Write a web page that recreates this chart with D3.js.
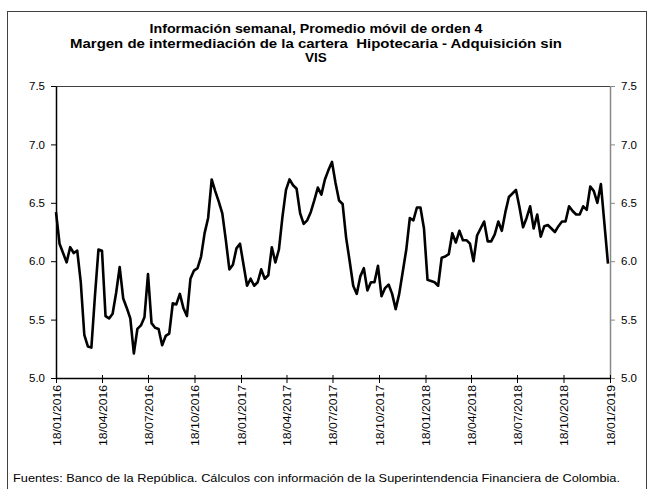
<!DOCTYPE html>
<html>
<head>
<meta charset="utf-8">
<script src="https://cdn.jsdelivr.net/npm/d3@7"></script>
<style>
  html, body { margin: 0; padding: 0; background: #fff; }
  svg { display: block; }
  text { font-family: Arial, "Liberation Sans", sans-serif; fill: #000; white-space: pre; }
</style>
</head>
<body>
<svg id="chart" width="653" height="489"></svg>
<script>
// ---- data ----
const titleLines = [
  "Información semanal, Promedio móvil de orden 4",
  "Margen de intermediación de la cartera  Hipotecaria - Adquisición sin",
  "VIS"
];
const sourceNote = "Fuentes: Banco de la República. Cálculos con información de la Superintendencia Financiera de Colombia.";
const startDate = "2016-01-18";
const endDate = "2019-01-18";
const tickDates = ["18/01/2016","18/04/2016","18/07/2016","18/10/2016","18/01/2017","18/04/2017","18/07/2017","18/10/2017","18/01/2018","18/04/2018","18/07/2018","18/10/2018","18/01/2019"];
const yTicks = [5.0, 5.5, 6.0, 6.5, 7.0, 7.5];
const margen = [
  6.42, 6.15, 6.07, 5.99, 6.12, 6.07, 6.09, 5.82, 5.37, 5.27,
  5.26, 5.70, 6.10, 6.09, 5.53, 5.51, 5.55, 5.73, 5.95, 5.68,
  5.60, 5.51, 5.21, 5.42, 5.45, 5.52, 5.89, 5.47, 5.43, 5.42,
  5.28, 5.36, 5.38, 5.64, 5.63, 5.72, 5.60, 5.53, 5.85, 5.92,
  5.94, 6.04, 6.24, 6.37, 6.70, 6.60, 6.51, 6.41, 6.18, 5.93,
  5.97, 6.11, 6.15, 5.97, 5.79, 5.85, 5.79, 5.82, 5.93, 5.85,
  5.88, 6.12, 5.99, 6.10, 6.38, 6.61, 6.70, 6.65, 6.62, 6.41,
  6.32, 6.35, 6.42, 6.52, 6.63, 6.57, 6.70, 6.78, 6.85, 6.67,
  6.52, 6.49, 6.20, 6.00, 5.79, 5.72, 5.87, 5.94, 5.75, 5.82,
  5.82, 5.96, 5.70, 5.77, 5.80, 5.72, 5.59, 5.72, 5.91, 6.10,
  6.37, 6.35, 6.46, 6.46, 6.28, 5.84, 5.83, 5.82, 5.79, 6.03,
  6.04, 6.06, 6.24, 6.16, 6.26, 6.18, 6.18, 6.15, 6.00, 6.22,
  6.28, 6.34, 6.17, 6.17, 6.23, 6.34, 6.26, 6.42, 6.55, 6.58,
  6.61, 6.46, 6.29, 6.37, 6.47, 6.28, 6.40, 6.21, 6.30, 6.31,
  6.28, 6.25, 6.30, 6.34, 6.34, 6.47, 6.43, 6.40, 6.40, 6.47,
  6.44, 6.64, 6.60, 6.50, 6.66, 6.32, 5.98
];

// ---- layout ----
const svg = d3.select("#chart");
const plot = { left: 56, right: 610, top: 86, bottom: 378 };
const parseISO = d3.timeParse("%Y-%m-%d");
const parseTick = d3.timeParse("%d/%m/%Y");
const t0 = parseISO(startDate), t1 = parseISO(endDate);
const dates = margen.map((_, i) => d3.timeDay.offset(t0, i * 7));

const x = d3.scaleTime().domain([t0, t1]).range([plot.left, plot.right]);
const y = d3.scaleLinear().domain([5.0, 7.5]).range([plot.bottom, plot.top]);

// outer frame
svg.append("rect")
  .attr("x", 7.5).attr("y", 11.5).attr("width", 639).attr("height", 490)
  .attr("fill", "none").attr("stroke", "#404040").attr("stroke-width", 1);

// title
const titleWidths = [333, 492, null];
titleLines.forEach((t, i) => {
  const tx = svg.append("text").attr("text-anchor", "middle")
    .attr("font-weight", "bold").attr("font-size", 13.5)
    .attr("x", 316).attr("y", 33 + i * 14.5).text(t);
  if (titleWidths[i]) tx.attr("textLength", titleWidths[i]).attr("lengthAdjust", "spacingAndGlyphs");
});

// top border of plot
svg.append("line")
  .attr("x1", plot.left).attr("x2", plot.right)
  .attr("y1", plot.top + 0.5).attr("y2", plot.top + 0.5)
  .attr("stroke", "#404040").attr("stroke-width", 1);

// left axis
const fmt = d3.format(".1f");
const gL = svg.append("g").attr("transform", `translate(${plot.left},0)`)
  .call(d3.axisLeft(y).tickValues(yTicks).tickSize(5).tickSizeOuter(0).tickFormat(fmt).tickPadding(6));
gL.select(".domain").attr("stroke", "#000").attr("stroke-width", 1.5);
gL.selectAll(".tick line").attr("stroke", "#000");
gL.selectAll(".tick text").attr("font-size", 11.5).attr("font-family", "Arial, 'Liberation Sans', sans-serif");

// right axis
const gR = svg.append("g").attr("transform", `translate(${plot.right},0)`)
  .call(d3.axisRight(y).tickValues(yTicks).tickSize(5).tickSizeOuter(0).tickFormat(fmt).tickPadding(6));
gR.select(".domain").attr("stroke", "#888").attr("stroke-width", 1.5);
gR.selectAll(".tick line").attr("stroke", "#888");
gR.selectAll(".tick text").attr("font-size", 11.5).attr("font-family", "Arial, 'Liberation Sans', sans-serif");

// bottom axis
const tickVals = tickDates.map(parseTick);
const gB = svg.append("g").attr("transform", `translate(0,${plot.bottom})`)
  .call(d3.axisBottom(x).tickValues(tickVals).tickSize(5).tickSizeOuter(0).tickFormat(d3.timeFormat("%d/%m/%Y")));
gB.select(".domain").attr("stroke", "#000").attr("stroke-width", 1.5);
gB.selectAll(".tick line").attr("stroke", "#000").attr("y1", -3);
gB.selectAll(".tick text")
  .attr("font-size", 11.5).attr("font-family", "Arial, 'Liberation Sans', sans-serif")
  .attr("text-anchor", "end")
  .attr("transform", "rotate(-90)")
  .attr("x", -7).attr("y", 0).attr("dy", "0.35em")
  .attr("textLength", 61).attr("lengthAdjust", "spacingAndGlyphs");

// line
const line = d3.line().x((d, i) => x(dates[i])).y(d => y(d)).curve(d3.curveLinear);
svg.append("path").datum(margen)
  .attr("d", line).attr("fill", "none")
  .attr("stroke", "#000").attr("stroke-width", 2.6)
  .attr("stroke-linejoin", "round");

// source note
svg.append("text").attr("x", 13).attr("y", 482)
  .attr("font-size", 11).attr("textLength", 607).attr("lengthAdjust", "spacingAndGlyphs")
  .text(sourceNote);
</script>
</body>
</html>
